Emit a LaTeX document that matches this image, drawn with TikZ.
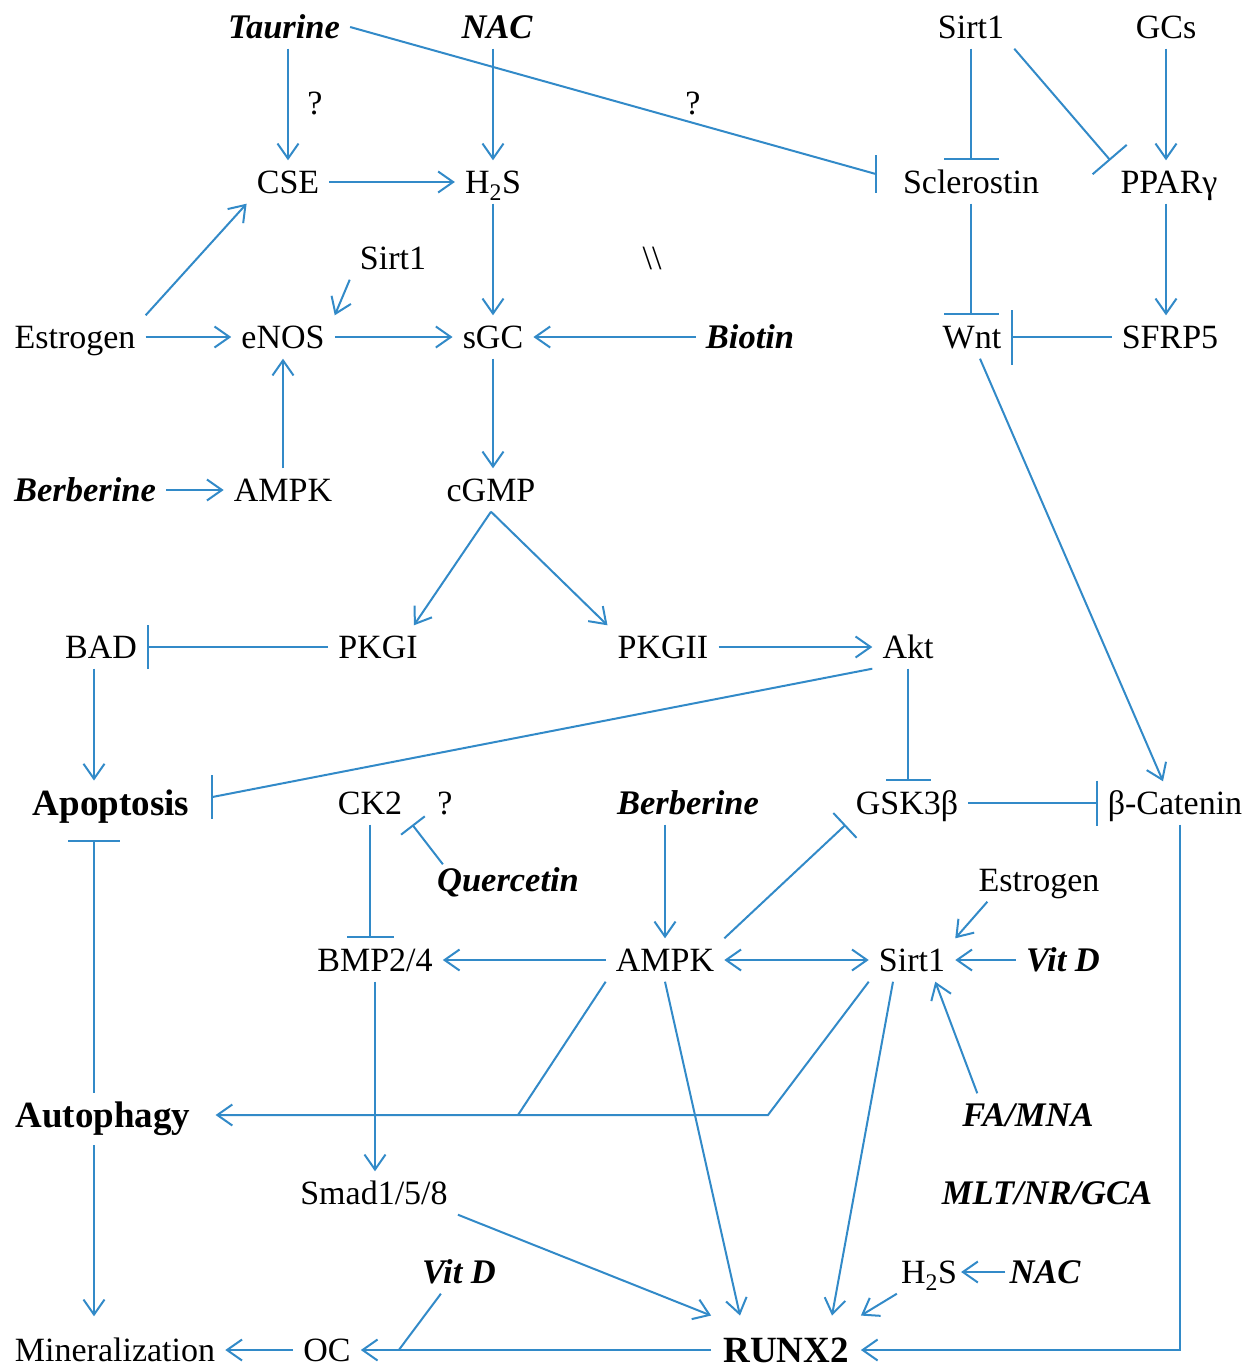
\documentclass[tikz,border=0pt]{standalone}
\usepackage{fontspec}
\setmainfont{Liberation Serif}
\usetikzlibrary{arrows.meta}
\definecolor{lb}{RGB}{50,138,200}
\begin{document}
\begin{tikzpicture}[x=1pt,y=-1pt,
  lbl/.style={font=\fontsize{34}{40}\selectfont, text height=23pt, text depth=0pt, inner sep=10pt},
  drug/.style={lbl, font=\fontsize{34.5}{40}\selectfont\bfseries\itshape},
  bold/.style={lbl, font=\fontsize{37}{44}\selectfont\bfseries, text height=24.5pt},
  link/.style={draw=lb, line width=2pt},
  act/.style={link, -{Straight Barb[length=15pt,width=21pt]}},
  bi/.style={link, {Straight Barb[length=15pt,width=21pt]}-{Straight Barb[length=15pt,width=21pt]}},
  inh/.style={link, -{Bar[width=#1]}}, inh/.default=48pt]
\useasboundingbox (0,0) rectangle (1256,1369);
% nodes
\node[drug] (taur) at (284,27) {Taurine};
\node[drug] (nac) at (497,27) {NAC};
\node[lbl] (sirtA) at (971,27) {Sirt1};
\node[lbl] (gcs) at (1166,27) {GCs};
\node[lbl] (q1) at (315,103) {?};
\node[lbl] (q2) at (693,103) {?};
\node[lbl] (cse) at (288,182) {CSE};
\node[lbl] (hsA) at (493,182) {H\textsubscript{2}S};
\node[lbl] (scl) at (971,182) {Sclerostin};
\node[lbl] (ppar) at (1169,182) {PPARγ};
\node[lbl] (sirtB) at (393,258) {Sirt1};
\node[lbl] (bsl) at (652,258) {\textbackslash\textbackslash};
\node[lbl] (estrA) at (75,337) {Estrogen};
\node[lbl] (enos) at (283,337) {eNOS};
\node[lbl] (sgc) at (493,337) {sGC};
\node[drug] (biot) at (750,337) {Biotin};
\node[lbl] (wnt) at (972,337) {Wnt};
\node[lbl] (sfrp) at (1170,337) {SFRP5};
\node[drug] (berbA) at (85,490) {Berberine};
\node[lbl] (ampkA) at (283,490) {AMPK};
\node[lbl] (cgmp) at (491,490) {cGMP};
\node[lbl] (bad) at (101,647) {BAD};
\node[lbl] (pkgi) at (378,647) {PKGI};
\node[lbl] (pkgii) at (663,647) {PKGII};
\node[lbl] (akt) at (908,647) {Akt};
\node[bold] (apop) at (111,803) {Apoptosis};
\node[lbl] (ck2) at (370,803) {CK2};
\node[lbl] (q3) at (445,803) {?};
\node[drug] (berbB) at (688,803) {Berberine};
\node[lbl] (gsk) at (907,803) {GSK3β};
\node[lbl] (bcat) at (1175,803) {β-Catenin};
\node[drug] (quer) at (508,880) {Quercetin};
\node[lbl] (estrB) at (1039,880) {Estrogen};
\node[lbl] (bmp) at (375,960) {BMP2/4};
\node[lbl] (ampkB) at (665,960) {AMPK};
\node[lbl] (sirtC) at (912,960) {Sirt1};
\node[drug] (vitdA) at (1063,960) {Vit D};
\node[bold] (auto) at (103,1115) {Autophagy};
\node[drug] (fa) at (1028,1115) {FA/MNA};
\node[lbl] (smad) at (374,1193) {Smad1/5/8};
\node[drug] (mlt) at (1047,1193) {MLT/NR/GCA};
\node[drug] (vitdB) at (459,1272) {Vit D};
\node[lbl, inner xsep=4pt] (hsB) at (929,1272) {H\textsubscript{2}S};
\node[drug, inner xsep=4pt] (nacB) at (1045,1272) {NAC};
\node[lbl] (mine) at (115,1350) {Mineralization};
\node[lbl] (oc) at (327,1350) {OC};
\node[bold, inner xsep=12pt, inner ysep=22pt] (runx) at (786,1350) {RUNX2};
% helper coordinates
\coordinate (col) at (94,0);
\coordinate (tsEnd) at ([xshift=-17pt,yshift=8pt]scl.west);
\coordinate (aaEnd) at ([xshift=13pt,yshift=6pt]apop.east);
\coordinate (j1) at (518,1115);
\coordinate (j2) at (768,1115);
% top block
\draw[act] (taur.south -| cse) -- (cse.north);
\draw[act] (nac.south -| hsA) -- (hsA.north);
\draw[link] (taur.east) -- (tsEnd);
\draw[link] ([yshift=19pt]tsEnd) -- ([yshift=-19pt]tsEnd);
\draw[act] (cse.east) -- (hsA.west);
\draw[act] (estrA.north east) -- (cse.south west);
\draw[act] (estrA.east) -- (enos.west);
\draw[act] (sirtB.south west) -- (enos.north east);
\draw[act] (enos.east) -- (sgc.west);
\draw[act] (hsA.south) -- (sgc.north);
\draw[act] (biot.west) -- (sgc.east);
\draw[act] (ampkA.north) -- (enos.south);
\draw[act] (berbA.east) -- (ampkA.west);
\draw[act] (sgc.south) -- (sgc.south |- cgmp.north);
\draw[act] (cgmp.south) -- ([xshift=-14pt]pkgi.north east);
\draw[act] (cgmp.south) -- (pkgii.north west);
\draw[inh=44pt] (pkgi.west) -- (bad.east);
\draw[act] (pkgii.east) -- (akt.west);
\draw[act] (bad.south -| col) -- (apop.north -| col);
\draw[link] (akt.south west) -- (aaEnd);
\draw[link] ([yshift=22pt]aaEnd) -- ([yshift=-22pt]aaEnd);
\draw[inh=45pt] (akt.south) -- (akt.south |- gsk.north);
\draw[inh=45pt] (gsk.east) -- (bcat.west);
% right block
\draw[inh=55pt] (sirtA.south) -- (scl.north);
\draw[inh=45pt] (sirtA.south east) -- (ppar.north west);
\draw[act] (gcs.south) -- (gcs.south |- ppar.north);
\draw[inh=55pt] (scl.south) -- (scl.south |- wnt.north);
\draw[act] (ppar.south -| gcs) -- (sfrp.north -| gcs);
\draw[inh=55pt] (sfrp.west) -- (wnt.east);
\draw[act] ([xshift=8pt]wnt.south) -- ([xshift=-12pt]bcat.north);
\draw[act] ([xshift=5pt]bcat.south) |- (runx.east);
% lower block
\draw[inh=52pt, shorten >=15pt] (auto.north -| col) -- (apop.south -| col);
\draw[act, shorten <=8pt, shorten >=12pt] (auto.south -| col) -- (mine.north -| col);
\draw[act] (berbB.south -| ampkB) -- (ampkB.north);
\draw[inh=47pt] (ck2.south) -- (ck2.south |- bmp.north);
\draw[inh=30pt] ([xshift=16pt,yshift=-6pt]quer.north west) -- (ck2.south east);
\draw[act] (ampkB.west) -- (bmp.east);
\draw[bi] (ampkB.east) -- (sirtC.west);
\draw[inh=34pt] (ampkB.north east) -- (gsk.south west);
\draw[act] ([xshift=19pt]estrB.south west) -- (sirtC.north east);
\draw[act] (vitdA.west) -- (sirtC.east);
\draw[act] ([xshift=25pt]fa.north west) -- ([xshift=-20pt]sirtC.south east);
\draw[link] (ampkB.south west) -- (j1);
\draw[act, shorten >=15pt] (sirtC.south west) -- (j2) -- (auto.east);
\draw[act] (bmp.south) -- (bmp.south |- smad.north);
\draw[act] (smad.south east) -- (runx.north west);
\draw[act] (ampkB.south) -- ([xshift=-46pt]runx.north);
\draw[act] ([xshift=-19pt]sirtC.south) -- ([xshift=46pt]runx.north);
\draw[act] (hsB.south west) -- (runx.north east);
\draw[act] (nacB.west) -- (hsB.east);
\draw[act] (runx.west) -- (oc.east);
\draw[link] ([xshift=29pt]vitdB.south west) -- ([xshift=38pt]oc.east);
\draw[act] (oc.west) -- (mine.east);
\end{tikzpicture}
\end{document}
